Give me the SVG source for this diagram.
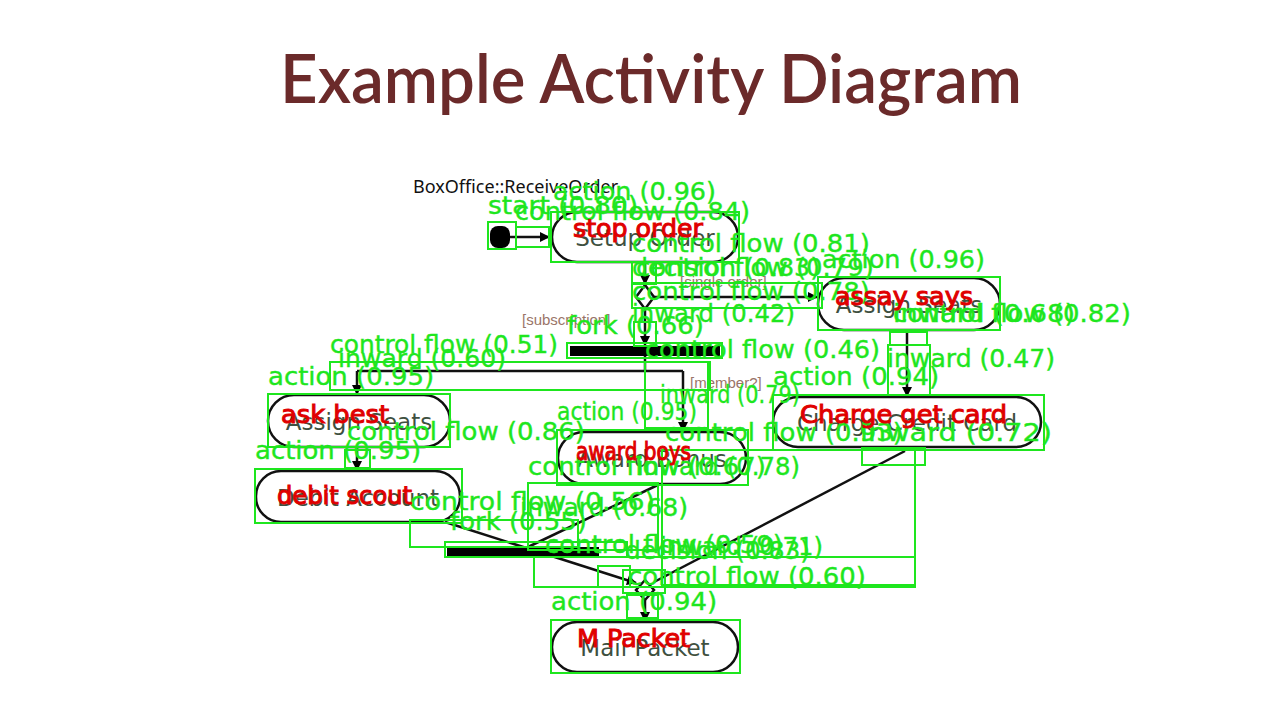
<svg xmlns="http://www.w3.org/2000/svg" width="1280" height="720" viewBox="0 0 1280 720">
<defs>
<marker id="ah" viewBox="0 0 10 10" refX="9" refY="5" markerWidth="11" markerHeight="10" orient="auto" markerUnits="userSpaceOnUse">
<path d="M0,0 L10,5 L0,10 z" fill="#000"/>
</marker>
<style>
.pill{fill:#fff;stroke:#111;stroke-width:2.5}
.nt{font-family:"DejaVu Sans",sans-serif;font-size:23px;fill:#3e5040;text-anchor:middle}
.cn{stroke:#111;stroke-width:2.5;fill:none}
.ca{stroke:#111;stroke-width:2.5;fill:none;marker-end:url(#ah)}
.gd{font-family:"Liberation Sans",sans-serif;font-size:15px;fill:#9a7468}
.bx{fill:none;stroke:#1ee61e;stroke-width:2}
.gl{font-family:"DejaVu Sans",sans-serif;font-size:25px;fill:#1ee61e;stroke:#1ee61e;stroke-width:0.4}
.rl{font-family:"DejaVu Sans",sans-serif;font-size:24px;fill:#e00000;stroke:#e00000;stroke-width:1}
</style>
</defs>
<rect width="1280" height="720" fill="#fff"/>
<text x="651" y="103" text-anchor="middle" font-family="Lato, 'Noto Sans', sans-serif" font-size="68" font-weight="600" fill="#6b2a2a" textLength="742" lengthAdjust="spacingAndGlyphs">Example Activity Diagram</text>
<text x="413" y="193" font-family="'Noto Sans', sans-serif" font-size="18" fill="#111">BoxOffice::ReceiveOrder</text>

<g id="connectors">
<line class="ca" x1="510" y1="237" x2="549" y2="237"/>
<line class="ca" x1="645" y1="262" x2="645" y2="284"/>
<line class="ca" x1="654" y1="297" x2="817" y2="297"/>
<line class="ca" x1="645" y1="309" x2="645" y2="345"/>
<polyline class="cn" points="645,356 645,371"/>
<polyline class="cn" points="357,371 683,371"/>
<line class="ca" x1="357" y1="371" x2="357" y2="394"/>
<line class="ca" x1="683" y1="371" x2="683" y2="431"/>
<line class="ca" x1="907" y1="330" x2="907" y2="396"/>
<line class="ca" x1="357" y1="447" x2="357" y2="470"/>
<line class="cn" x1="662" y1="483" x2="528" y2="547"/>
<line class="ca" x1="445" y1="522" x2="636" y2="583"/>
<line class="cn" x1="905" y1="451" x2="654" y2="582"/>
<line class="ca" x1="645" y1="600" x2="645" y2="621"/>
</g>

<g id="start"><rect x="490" y="226" width="20" height="22" rx="8" fill="#000"/></g>
<g id="decision"><path d="M645,285 L654,297 L645,309 L636,297 z" fill="#fff" stroke="#111" stroke-width="2.5"/></g>
<g id="fork"><rect x="570" y="346" width="150" height="10" fill="#000"/></g>
<g id="join"><rect x="447" y="547" width="152" height="9" fill="#000"/></g>
<g id="merge"><path d="M645,580 L654,590 L645,600 L636,590 z" fill="#fff" stroke="#111" stroke-width="2.5"/></g>

<g id="setup-order"><rect class="pill" x="552" y="212" width="186" height="50" rx="25"/><text class="nt" x="645" y="246">Setup Order</text></g>
<g id="assign-seats-r"><rect class="pill" x="818" y="278" width="182" height="52" rx="26"/><text class="nt" x="909" y="313">Assign Seats</text></g>
<g id="assign-seats-l"><rect class="pill" x="268" y="395" width="182" height="52" rx="26"/><text class="nt" x="359" y="430">Assign Seats</text></g>
<g id="award-bonus"><rect class="pill" x="558" y="432" width="188" height="52" rx="26"/><text class="nt" x="652" y="467">Award Bonus</text></g>
<g id="charge-credit-card"><rect class="pill" x="773" y="397" width="268" height="50" rx="25"/><text class="nt" x="907" y="431">Charge Credit Card</text></g>
<g id="debit-account"><rect class="pill" x="256" y="471" width="204" height="51" rx="25"/><text class="nt" x="358" y="506">Debit Account</text></g>
<g id="mail-packet"><rect class="pill" x="552" y="622" width="186" height="50" rx="25"/><text class="nt" x="645" y="656">Mail Packet</text></g>

<g id="guards">
<text class="gd" x="680" y="287">[single order]</text>
<text class="gd" x="522" y="325">[subscription]</text>
<text class="gd" x="690" y="388">[member?]</text>
</g>

<g id="overlay-boxes">
<rect class="bx" x="488" y="222" width="28" height="27"/>
<rect class="bx" x="516" y="227" width="33" height="20"/>
<rect class="bx" x="551" y="212" width="188" height="50"/>
<rect class="bx" x="632" y="262" width="24" height="22"/>
<rect class="bx" x="632" y="283" width="190" height="25"/>
<rect class="bx" x="818" y="277" width="182" height="53"/>
<rect class="bx" x="634" y="322" width="22" height="24"/>
<rect class="bx" x="567" y="343" width="155" height="15"/>
<rect class="bx" x="890" y="332" width="37" height="13"/>
<rect class="bx" x="888" y="345" width="42" height="50"/>
<rect class="bx" x="330" y="362" width="380" height="28"/>
<rect class="bx" x="645" y="362" width="63" height="66"/>
<rect class="bx" x="268" y="394" width="182" height="53"/>
<rect class="bx" x="773" y="395" width="271" height="55"/>
<rect class="bx" x="557" y="430" width="191" height="55"/>
<rect class="bx" x="345" y="450" width="25" height="18"/>
<rect class="bx" x="255" y="469" width="207" height="54"/>
<rect class="bx" x="862" y="448" width="63" height="17"/>
<rect class="bx" x="662" y="450" width="253" height="135"/>
<rect class="bx" x="528" y="483" width="130" height="67"/>
<rect class="bx" x="410" y="520" width="168" height="27"/>
<rect class="bx" x="445" y="542" width="182" height="15"/>
<rect class="bx" x="534" y="557" width="381" height="30"/>
<rect class="bx" x="598" y="566" width="32" height="21"/>
<rect class="bx" x="623" y="570" width="42" height="23"/>
<rect class="bx" x="627" y="595" width="31" height="23"/>
<rect class="bx" x="551" y="620" width="189" height="53"/>
</g>

<g id="overlay-labels">
<text class="gl" x="488" y="214" textLength="150" lengthAdjust="spacingAndGlyphs">start (0.80)</text>
<text class="gl" x="553" y="200" textLength="163" lengthAdjust="spacingAndGlyphs">action (0.96)</text>
<text class="gl" x="515" y="220" textLength="235" lengthAdjust="spacingAndGlyphs">control flow (0.84)</text>
<text class="gl" x="632" y="252" textLength="238" lengthAdjust="spacingAndGlyphs">control flow (0.81)</text>
<text class="gl" x="632" y="276" textLength="188" lengthAdjust="spacingAndGlyphs">decision (0.83)</text>
<text class="gl" x="636" y="276" textLength="238" lengthAdjust="spacingAndGlyphs">control flow (0.79)</text>
<text class="gl" x="822" y="268" textLength="163" lengthAdjust="spacingAndGlyphs">action (0.96)</text>
<text class="gl" x="632" y="300" textLength="238" lengthAdjust="spacingAndGlyphs">control flow (0.78)</text>
<text class="gl" x="893" y="322" textLength="182" lengthAdjust="spacingAndGlyphs">inward (0.68)</text>
<text class="gl" x="893" y="322" textLength="238" lengthAdjust="spacingAndGlyphs">control flow (0.82)</text>
<text class="gl" x="632" y="322" textLength="163" lengthAdjust="spacingAndGlyphs">inward (0.42)</text>
<text class="gl" x="567" y="334" textLength="137" lengthAdjust="spacingAndGlyphs">fork (0.66)</text>
<text class="gl" x="330" y="353" textLength="228" lengthAdjust="spacingAndGlyphs">control flow (0.51)</text>
<text class="gl" x="645" y="358" textLength="235" lengthAdjust="spacingAndGlyphs">control flow (0.46)</text>
<text class="gl" x="887" y="367" textLength="168" lengthAdjust="spacingAndGlyphs">inward (0.47)</text>
<text class="gl" x="338" y="367" textLength="168" lengthAdjust="spacingAndGlyphs">inward (0.60)</text>
<text class="gl" x="268" y="385" textLength="166" lengthAdjust="spacingAndGlyphs">action (0.95)</text>
<text class="gl" x="773" y="385" textLength="166" lengthAdjust="spacingAndGlyphs">action (0.94)</text>
<text class="gl" x="660" y="403" textLength="140" lengthAdjust="spacingAndGlyphs">inward (0.79)</text>
<text class="gl" x="557" y="420" textLength="140" lengthAdjust="spacingAndGlyphs">action (0.95)</text>
<text class="gl" x="347" y="440" textLength="238" lengthAdjust="spacingAndGlyphs">control flow (0.86)</text>
<text class="gl" x="665" y="441" textLength="238" lengthAdjust="spacingAndGlyphs">control flow (0.93)</text>
<text class="gl" x="860" y="441" textLength="192" lengthAdjust="spacingAndGlyphs">inward (0.72)</text>
<text class="gl" x="255" y="459" textLength="166" lengthAdjust="spacingAndGlyphs">action (0.95)</text>
<text class="gl" x="528" y="475" textLength="238" lengthAdjust="spacingAndGlyphs">control flow (0.67)</text>
<text class="gl" x="637" y="475" textLength="163" lengthAdjust="spacingAndGlyphs">inward (0.78)</text>
<text class="gl" x="410" y="510" textLength="245" lengthAdjust="spacingAndGlyphs">control flow (0.56)</text>
<text class="gl" x="520" y="516" textLength="168" lengthAdjust="spacingAndGlyphs">inward (0.68)</text>
<text class="gl" x="450" y="530" textLength="137" lengthAdjust="spacingAndGlyphs">fork (0.55)</text>
<text class="gl" x="545" y="553" textLength="238" lengthAdjust="spacingAndGlyphs">control flow (0.59)</text>
<text class="gl" x="660" y="555" textLength="163" lengthAdjust="spacingAndGlyphs">inward (0.71)</text>
<text class="gl" x="625" y="559" textLength="185" lengthAdjust="spacingAndGlyphs">decision (0.83)</text>
<text class="gl" x="628" y="585" textLength="238" lengthAdjust="spacingAndGlyphs">control flow (0.60)</text>
<text class="gl" x="551" y="610" textLength="166" lengthAdjust="spacingAndGlyphs">action (0.94)</text>
<text class="rl" x="573" y="237" textLength="130" lengthAdjust="spacingAndGlyphs">stop order</text>
<text class="rl" x="835" y="305" textLength="138" lengthAdjust="spacingAndGlyphs">assay says</text>
<text class="rl" x="281" y="423" textLength="108" lengthAdjust="spacingAndGlyphs">ask best</text>
<text class="rl" x="800" y="423" textLength="207" lengthAdjust="spacingAndGlyphs">Charge get card</text>
<text class="rl" x="576" y="460" textLength="115" lengthAdjust="spacingAndGlyphs">award boys</text>
<text class="rl" x="277" y="504" textLength="135" lengthAdjust="spacingAndGlyphs">debit scout</text>
<text class="rl" x="577" y="647" textLength="113" lengthAdjust="spacingAndGlyphs">M Packet</text>
</g>
</svg>
